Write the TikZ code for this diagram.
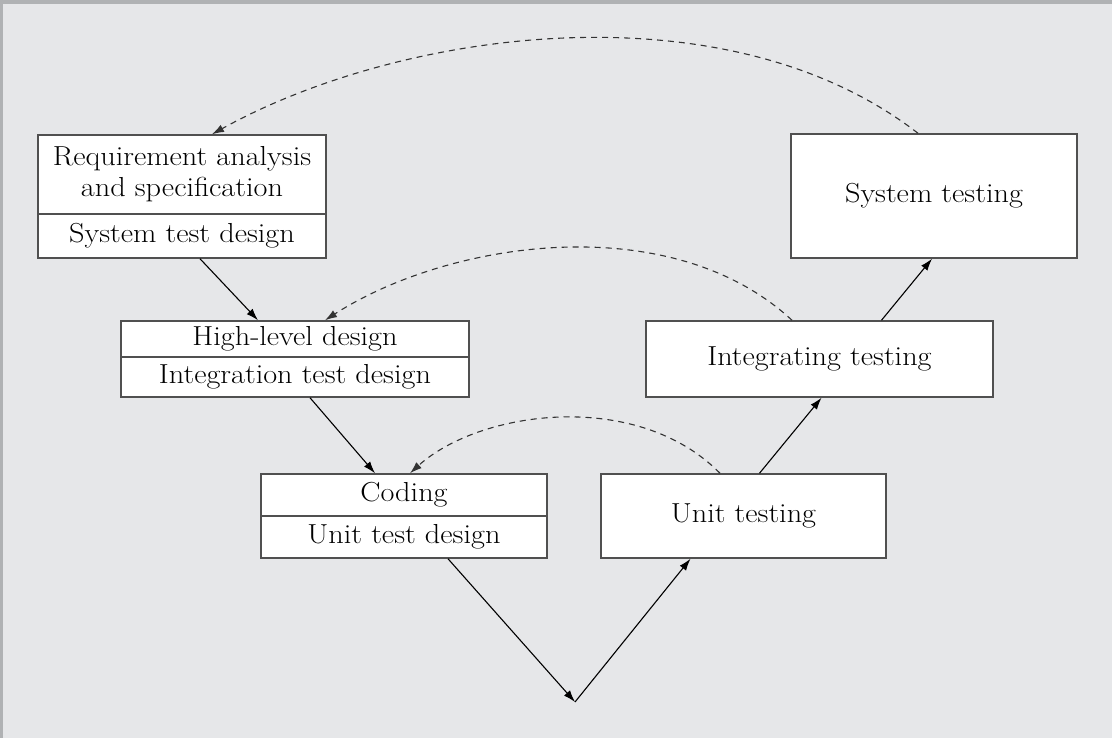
\documentclass[tikz,border=0pt]{standalone}
\usepackage{fontspec}
\setmainfont{Latin Modern Roman}[FakeStretch=1.1]
\usetikzlibrary{arrows.meta,calc}
\definecolor{bg}{HTML}{E6E7E9}
\definecolor{framec}{HTML}{B0B2B4}
\definecolor{boxline}{HTML}{505050}
\begin{document}
\begin{tikzpicture}[x=1pt,y=-1pt,
  box/.style={draw=boxline,line width=1.5pt,fill=white,inner sep=0pt,align=center,font=\fontsize{27.5}{31}\selectfont},
  flow/.style={line width=1.1pt,-{Latex[length=12pt,width=8pt]}},
  back/.style={line width=1.1pt,black!80,dash pattern=on 6pt off 5pt,-{Latex[length=12pt,width=8pt]}},
]
\fill[bg] (0,0) rectangle (1112,741);
\fill[framec] (0,0) rectangle (1112,4);
\fill[framec] (0,0) rectangle (2.5,741);
\fill[white] (0,738) rectangle (1112,741);
\path[use as bounding box] (0,0) rectangle (1112,741);

\node[box,minimum width=288pt,minimum height=79pt] (req) at (182,174.5) {Requirement analysis\\and specification};
\node[box,minimum width=288pt,minimum height=44pt] (sysd) at (182,236) {System test design};
\node[box,minimum width=348pt,minimum height=36pt] (hld) at (295,339) {High-level design};
\node[box,minimum width=348pt,minimum height=40pt] (itd) at (295,377) {Integration test design};
\node[box,minimum width=286pt,minimum height=42pt] (cod) at (404,495) {Coding};
\node[box,minimum width=286pt,minimum height=42pt] (utd) at (404,537) {Unit test design};
\node[box,minimum width=285pt,minimum height=84pt] (ut) at (743.5,516) {Unit testing};
\node[box,minimum width=347pt,minimum height=76pt] (it) at (819.5,359) {Integrating testing};
\node[box,minimum width=286pt,minimum height=124pt] (st) at (934,196) {System testing};
\coordinate (v) at (575,702);

\draw[flow] ([xshift=18pt]sysd.south) -- ([xshift=-37pt]hld.north);
\draw[flow] ([xshift=15pt]itd.south) -- ([xshift=-29pt]cod.north);
\draw[flow] ([xshift=44pt]utd.south) -- (v);
\draw[flow] (v) -- ([xshift=-53pt]ut.south);
\draw[flow] ([xshift=16pt]ut.north) -- ([xshift=2pt]it.south);
\draw[flow] ([xshift=62pt]it.north) -- ([xshift=-2pt]st.south);

\draw[back] ([xshift=-16pt]st.north) .. controls (725,-16) and (400,30) .. ([xshift=30pt]req.north);
\draw[back] ([xshift=-27.5pt]it.north) .. controls (671,208) and (450,240) .. ([xshift=30pt]hld.north);
\draw[back] ([xshift=-23.5pt]ut.north) .. controls (637,389) and (480,410) .. ([xshift=6pt]cod.north);
\end{tikzpicture}
\end{document}
